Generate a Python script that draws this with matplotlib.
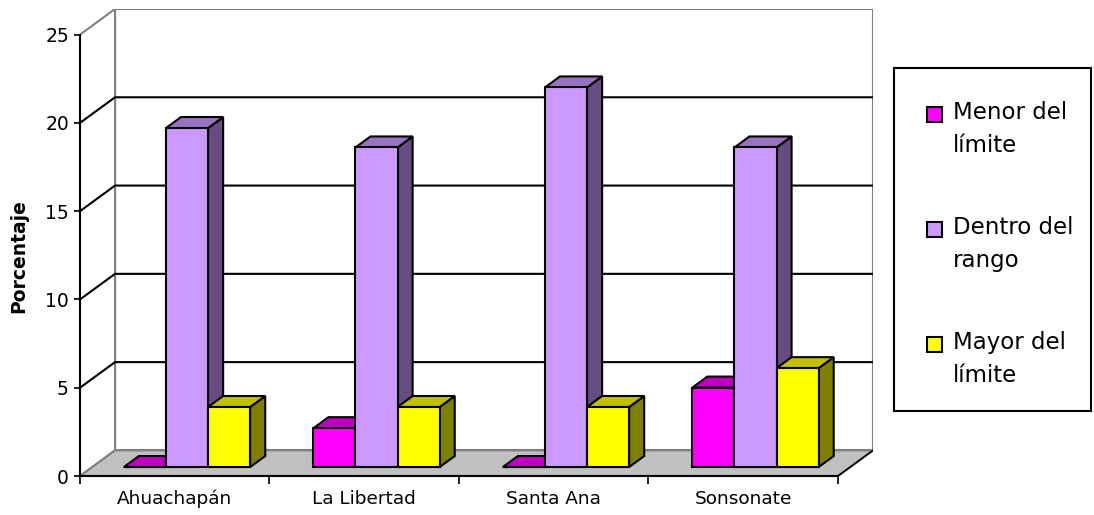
import matplotlib.pyplot as plt
from matplotlib.patches import Polygon, Rectangle

# Datos
categorias = ["Ahuachapán", "La Libertad", "Santa Ana", "Sonsonate"]
series = ["Menor del\nlímite", "Dentro del\nrango", "Mayor del\nlímite"]
menor = [0, 2.2, 0, 4.5]
dentro = [19.2, 18.1, 21.5, 18.1]
mayor = [3.4, 3.4, 3.4, 5.6]
valores = [menor, dentro, mayor]

# Colores: frente, arriba, lado
colores = [("#FF00FF", "#C000C0", "#800080"),
           ("#CC99FF", "#9973BF", "#664C80"),
           ("#FFFF00", "#C0C000", "#808000")]

# Profundidad del efecto 3D (en unidades de datos)
DX, DY = 0.185, 1.45
D0, D1 = 0.35, 0.78
ANCHO = 1 / 4.5  # ancho de intervalo 150%
YMAX = 25

fig = plt.figure(figsize=(10.94, 5.15), dpi=100)
ax = fig.add_axes([80 / 1094, 1 - 476 / 515, 793 / 1094, 467 / 515])
n = len(categorias)
ax.set_xlim(0, n + DX)
ax.set_ylim(0, YMAX + DY)

gris = "#808080"
# Pared de fondo, pared izquierda y piso
ax.add_patch(Rectangle((DX, DY), n, YMAX, facecolor="white", edgecolor=gris, lw=1.5, zorder=1))
ax.add_patch(Polygon([(0, 0), (DX, DY), (DX, YMAX + DY), (0, YMAX)], facecolor="white",
                     edgecolor=gris, lw=1.5, zorder=1))
ax.add_patch(Polygon([(0, 0), (n, 0), (n + DX, DY), (DX, DY)], facecolor="#C0C0C0",
                     edgecolor=gris, lw=1.5, zorder=2))
ax.plot([n, n + DX], [0, DY], color="black", lw=1.2, zorder=3)

# Líneas de división
for v in range(5, YMAX, 5):
    ax.plot([0, DX, n + DX], [v, v + DY, v + DY], color="black", lw=1.5, zorder=3)


def barra3d(x0, h, cols, z):
    f, t, s = cols
    xa, xb = x0 + D0 * DX, x0 + ANCHO + D0 * DX
    ya = D0 * DY
    ex, ey = (D1 - D0) * DX, (D1 - D0) * DY
    frente = [(xa, ya), (xb, ya), (xb, ya + h), (xa, ya + h)]
    arriba = [(xa, ya + h), (xb, ya + h), (xb + ex, ya + h + ey), (xa + ex, ya + h + ey)]
    lado = [(xb, ya), (xb + ex, ya + ey), (xb + ex, ya + h + ey), (xb, ya + h)]
    for pts, c in ((lado, s), (arriba, t), (frente, f)):
        ax.add_patch(Polygon(pts, facecolor=c, edgecolor="black", lw=1.5,
                             joinstyle="miter", zorder=z))
        z += 1
    return z


z = 10
for i in range(n):
    for j, vals in enumerate(valores):
        x0 = i + 0.5 + (j - 1.5) * ANCHO
        z = barra3d(x0, vals[i], colores[j], z)

# Ejes
for s in ("top", "right"):
    ax.spines[s].set_visible(False)
ax.spines["left"].set_bounds(0, YMAX)
ax.spines["bottom"].set_bounds(0, n)
for s in ("left", "bottom"):
    ax.spines[s].set_linewidth(1.5)
    ax.spines[s].set_zorder(5)

ax.set_yticks(range(0, YMAX + 1, 5))
ax.tick_params(axis="y", length=4, width=1.2, pad=4, labelsize=13.5)
ax.set_xticks(range(n + 1))
ax.set_xticklabels([""] * (n + 1))
ax.tick_params(axis="x", which="major", length=6, width=1.2)
ax.set_xticks([i + 0.5 for i in range(n)], minor=True)
ax.set_xticklabels(categorias, minor=True, fontsize=13.3)
ax.tick_params(axis="x", which="minor", length=0, pad=10)

fig.text(19 / 1094, 1 - 256 / 515, "Porcentaje", rotation=90, fontsize=13.5,
         fontweight="bold", ha="center", va="center")

# Leyenda
lg = fig.add_axes([894 / 1094, 1 - 411 / 515, 197 / 1094, 343 / 515])
lg.set_xlim(0, 197)
lg.set_ylim(343, 0)
lg.set_xticks([])
lg.set_yticks([])
for s in lg.spines.values():
    s.set_linewidth(1.5)
for k, nombre in enumerate(series):
    y0 = 39 + k * 115
    lg.add_patch(Rectangle((33, y0), 15, 15, facecolor=colores[k][0], edgecolor="black", lw=1.5))
    lg.text(59, y0 + 22, nombre, fontsize=16.5, ha="left", va="center", linespacing=1.6)

fig.savefig("out.png", dpi=100)
